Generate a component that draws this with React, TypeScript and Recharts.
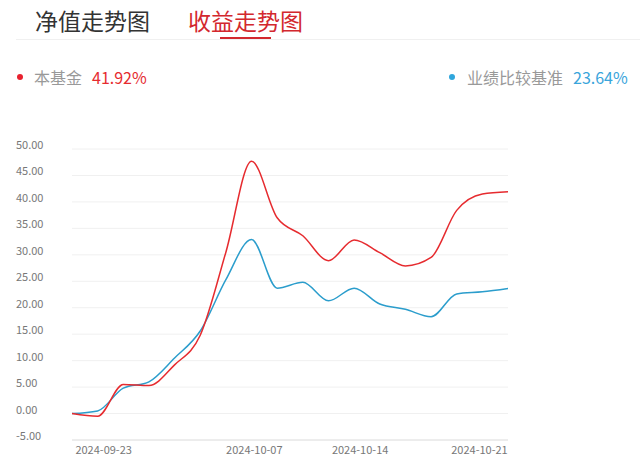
import React from 'react';
import { LineChart, Line, XAxis, YAxis, CartesianGrid } from 'recharts';

const dates = [
  '2024-09-20', '2024-09-23', '2024-09-24', '2024-09-25', '2024-09-26', '2024-09-27',
  '2024-09-30', '2024-10-08', '2024-10-09', '2024-10-10', '2024-10-11', '2024-10-14',
  '2024-10-15', '2024-10-16', '2024-10-17', '2024-10-18', '2024-10-21', '2024-10-22',
];
const fundValues = [0, -0.5, 5.5, 5.3, 9.2, 14.8, 30.5, 47.7, 37.0, 33.6, 28.9, 32.8, 30.4, 27.9, 29.5, 38.4, 41.5, 41.92];
const benchValues = [0, 0.5, 4.8, 6.0, 10.5, 15.6, 25.3, 32.9, 23.7, 24.8, 21.3, 23.7, 20.7, 19.7, 18.3, 22.6, 23.0, 23.64];
const xTickLabels = ['2024-09-23', '2024-10-07', '2024-10-14', '2024-10-21'];
const yTicks = [-5, 0, 5, 10, 15, 20, 25, 30, 35, 40, 45, 50];
const tabs = ['净值走势图', '收益走势图'];
const fundName = '本基金';
const benchName = '业绩比较基准';
const fundTotal = '41.92%';
const benchTotal = '23.64%';

const FONT = '"Noto Sans CJK SC", "Noto Sans", sans-serif';
const RED = '#e62b2f';
const BLUE = '#2b9dcc';

const dayNum = (s: string) => Date.parse(s) / 86400000;
const tickPos = (label: string) => {
  const d = dayNum(label);
  for (let i = 0; i < dates.length; i++) {
    const di = dayNum(dates[i]);
    if (di === d) return i;
    if (di > d) {
      const dp = dayNum(dates[i - 1]);
      return i - 1 + (d - dp) / (di - dp);
    }
  }
  return dates.length - 1;
};
const xTicks = xTickLabels.map(tickPos);
const labelFor = (v: number) => {
  const k = xTicks.findIndex((t) => Math.abs(t - v) < 1e-6);
  return k >= 0 ? xTickLabels[k] : '';
};

const data = dates.map((date, i) => ({ i, date, fund: fundValues[i], bench: benchValues[i] }));

const W = 640;
const H = 464;
const MARGIN = { top: 149, right: 132, bottom: 0, left: 0 };
const PLOT_RIGHT = W - MARGIN.right;

const XTick = (props: any) => {
  const { x, y, payload } = props;
  const half = 28.5;
  const cx = Math.min(x + 6, PLOT_RIGHT - half);
  return (
    <text x={cx} y={y} dy={6} textAnchor="middle" fill="#777" fontSize={11} fontFamily={FONT}>
      {labelFor(payload.value)}
    </text>
  );
};

const YTick = (props: any) => {
  const { y, payload } = props;
  return (
    <text x={16} y={y} textAnchor="start" fill="#777" fontSize={11} fontFamily={FONT}>
      {Number(payload.value).toFixed(2)}
    </text>
  );
};

export default function App() {
  return (
    <div style={{ position: 'relative', width: W, height: H, background: '#fff', fontFamily: FONT, overflow: 'hidden' }}>
      <style>{'body{margin:0;}'}</style>
      <div style={{ position: 'absolute', left: 35, top: 4, fontSize: 23, lineHeight: '32px', color: '#333' }}>{tabs[0]}</div>
      <div style={{ position: 'absolute', left: 188, top: 4, fontSize: 23, lineHeight: '32px', color: '#d3282e' }}>{tabs[1]}</div>
      <div style={{ position: 'absolute', left: 220, top: 37, width: 51, height: 3, background: '#d3282e' }} />
      <div style={{ position: 'absolute', left: 16, right: 0, top: 39, height: 1, background: '#f0f0f0' }} />

      <div style={{ position: 'absolute', left: 17, top: 74, width: 6, height: 6, borderRadius: 3, background: '#e8212e' }} />
      <div style={{ position: 'absolute', left: 34, top: 65, fontSize: 16, lineHeight: '24px', whiteSpace: 'nowrap' }}>
        <span style={{ color: '#999' }}>{fundName}</span>
        <span style={{ color: RED, marginLeft: 10 }}>{fundTotal}</span>
      </div>
      <div style={{ position: 'absolute', left: 449, top: 74, width: 6, height: 6, borderRadius: 3, background: '#2fa6dc' }} />
      <div style={{ position: 'absolute', left: 467, top: 65, fontSize: 16, lineHeight: '24px', whiteSpace: 'nowrap' }}>
        <span style={{ color: '#999' }}>{benchName}</span>
        <span style={{ color: '#3aa5db', marginLeft: 10 }}>{benchTotal}</span>
      </div>

      <div style={{ position: 'absolute', left: 0, top: 0 }}>
        <LineChart width={W} height={H} data={data} margin={MARGIN}>
          <CartesianGrid vertical={false} stroke="#f0f0f0" />
          <XAxis
            type="number"
            dataKey="i"
            domain={[0, dates.length - 1]}
            ticks={xTicks}
            interval={0}
            tickLine={false}
            axisLine={{ stroke: '#e2e2e2' }}
            tick={<XTick />}
            height={24}
          />
          <YAxis
            type="number"
            domain={[-5, 50]}
            ticks={yTicks}
            interval={0}
            axisLine={false}
            tickLine={false}
            tick={<YTick />}
            width={72}
          />
          <Line type="monotone" dataKey="bench" stroke={BLUE} strokeWidth={1.5} dot={false} activeDot={false} isAnimationActive={false} />
          <Line type="monotone" dataKey="fund" stroke={RED} strokeWidth={1.5} dot={false} activeDot={false} isAnimationActive={false} />
        </LineChart>
      </div>
    </div>
  );
}
